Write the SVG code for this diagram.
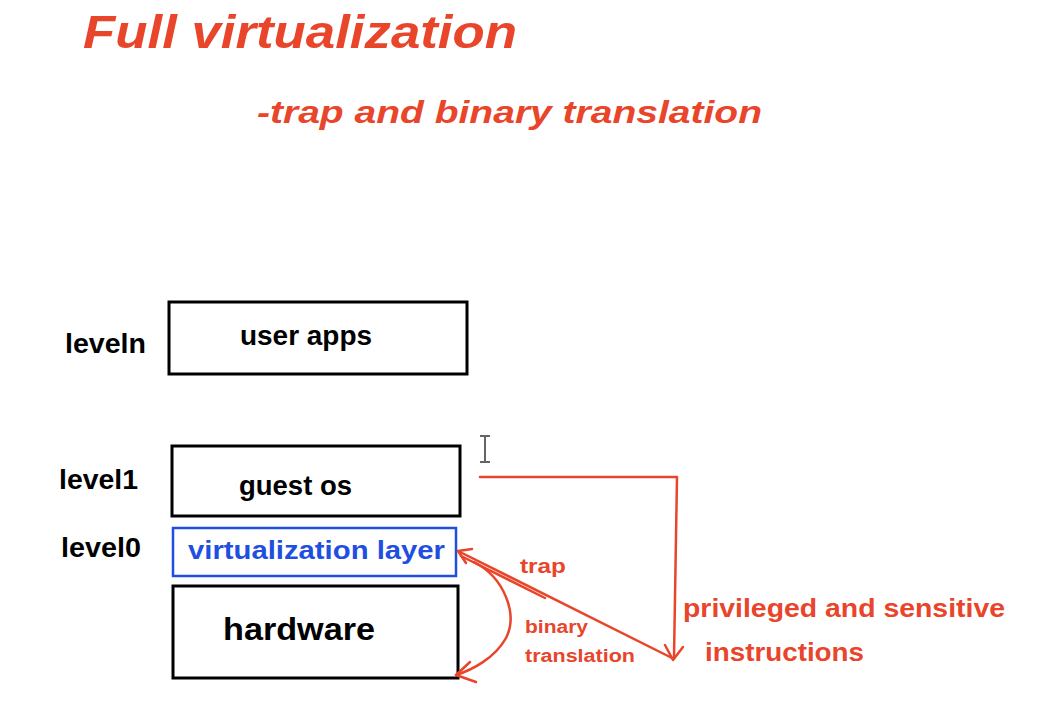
<svg xmlns="http://www.w3.org/2000/svg" width="1064" height="706" viewBox="0 0 1064 706">
<style>
.t{font-family:"Liberation Sans",Arial,sans-serif;font-weight:bold}
.red{fill:#e8452b}
.box{fill:#fff;stroke:#000;stroke-width:3}
.blue{fill:#fff;stroke:#1f4fe0;stroke-width:2.5}
.ar{fill:none;stroke:#e8452b;stroke-width:2.5;stroke-linecap:round;stroke-linejoin:round}
</style>
<rect width="1064" height="706" fill="#fff"/>
<g id="title">
<text class="t red" x="83" y="48" font-size="47" font-style="italic" textLength="434" lengthAdjust="spacingAndGlyphs">Full virtualization</text>
<text class="t red" x="257" y="123" font-size="31" font-style="italic" textLength="505" lengthAdjust="spacingAndGlyphs">-trap and binary translation</text>
</g>
<g id="labels">
<text class="t" x="65" y="353" font-size="27" textLength="81" lengthAdjust="spacingAndGlyphs">leveln</text>
<text class="t" x="59" y="489" font-size="27" textLength="79" lengthAdjust="spacingAndGlyphs">level1</text>
<text class="t" x="61" y="557" font-size="27" textLength="80" lengthAdjust="spacingAndGlyphs">level0</text>
</g>
<g id="user-apps">
<rect class="box" x="169" y="302" width="298" height="72"/>
<text class="t" x="240" y="345" font-size="27" textLength="132" lengthAdjust="spacingAndGlyphs">user apps</text>
</g>
<g id="guest-os">
<rect class="box" x="172" y="446" width="288" height="70"/>
<text class="t" x="239" y="495" font-size="27" textLength="113" lengthAdjust="spacingAndGlyphs">guest os</text>
</g>
<g id="virtualization-layer">
<rect class="blue" x="173" y="528" width="283" height="48"/>
<text class="t" x="188" y="559" font-size="26" fill="#1f4fe0" textLength="257" lengthAdjust="spacingAndGlyphs">virtualization layer</text>
</g>
<g id="hardware">
<rect class="box" x="173" y="586" width="285" height="92"/>
<text class="t" x="223" y="640" font-size="32" textLength="152" lengthAdjust="spacingAndGlyphs">hardware</text>
</g>
<g id="cursor" fill="none" stroke="#333" stroke-width="1.5">
<path d="M485 437 V461 M480 436 H490 M480 462 H490"/>
</g>
<g id="connectors">
<path class="ar" d="M480 477 H677 L674 657"/>
<path class="ar" d="M665 645 L673 660 L683 647"/>
<path class="ar" d="M672 658 L458 551"/>
<path class="ar" d="M461 556 L545 598"/>
<path class="ar" d="M472 549 L458 551 L466 563"/>
<path class="ar" d="M474 562 C505 578 518 615 506 638 C495 658 472 670 456 675"/>
<path class="ar" d="M470 662 L456 675 L476 682"/>
</g>
<g id="arrow-labels">
<text class="t red" x="520" y="573" font-size="20" textLength="46" lengthAdjust="spacingAndGlyphs">trap</text>
<text class="t red" x="525" y="633" font-size="18" textLength="63" lengthAdjust="spacingAndGlyphs">binary</text>
<text class="t red" x="525" y="662" font-size="18" textLength="110" lengthAdjust="spacingAndGlyphs">translation</text>
<text class="t red" x="683" y="617" font-size="26" textLength="322" lengthAdjust="spacingAndGlyphs">privileged and sensitive</text>
<text class="t red" x="705" y="661" font-size="26" textLength="159" lengthAdjust="spacingAndGlyphs">instructions</text>
</g>
</svg>
